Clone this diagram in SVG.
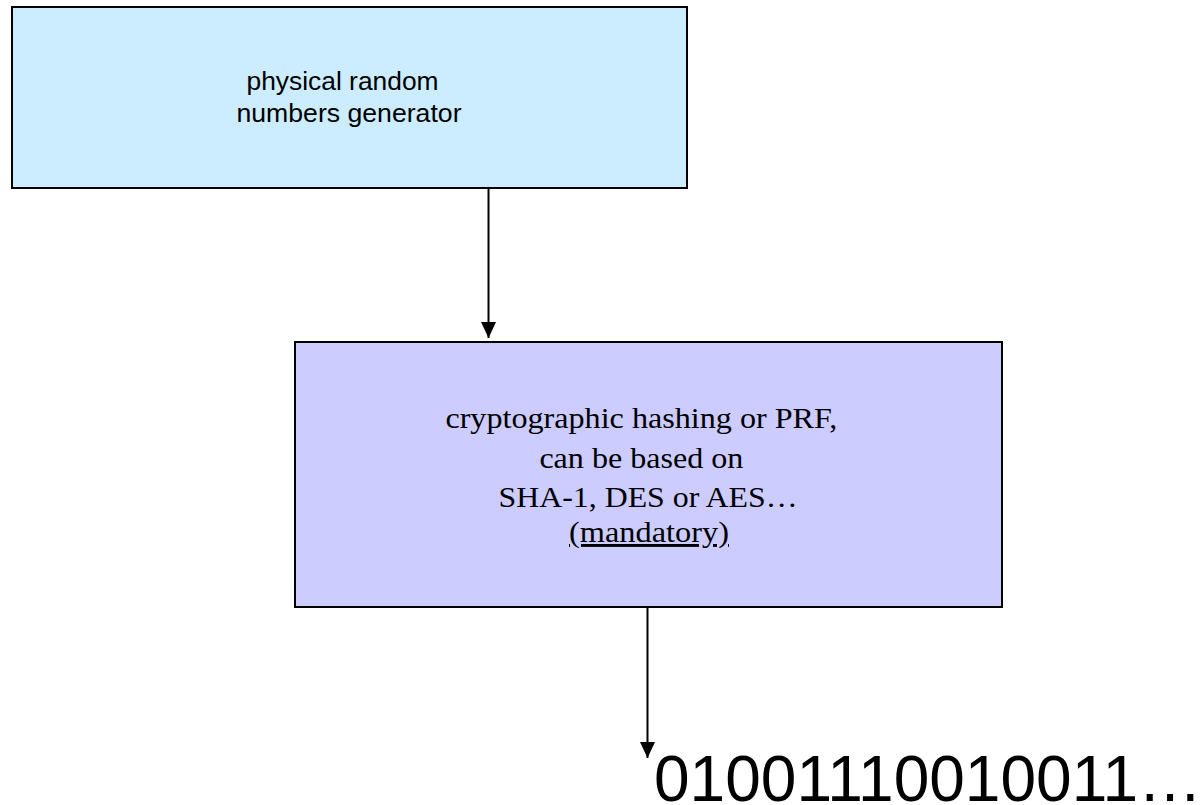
<svg xmlns="http://www.w3.org/2000/svg" width="1202" height="805" viewBox="0 0 1202 805">
  <style>
    .box { stroke: #000; stroke-width: 2; }
    .sans { font-family: "Liberation Sans", Arial, sans-serif; fill: #000; }
    .serif { font-family: "Liberation Serif", "Times New Roman", serif; fill: #000; }
    .link { stroke: #000; stroke-width: 2; fill: none; marker-end: url(#arrow); }
  </style>
  <defs>
    <marker id="arrow" viewBox="0 0 16 15" refX="16" refY="7.5" markerWidth="16" markerHeight="15" markerUnits="userSpaceOnUse" orient="auto">
      <path d="M0,0 L16,7.5 L0,15 Z" fill="#000"/>
    </marker>
  </defs>
  <rect width="1202" height="805" fill="#fff"/>

  <g id="physical-rng">
    <rect class="box" x="12" y="7" width="675" height="181" fill="#CCECFF"/>
    <text class="sans" font-size="25" text-anchor="middle">
      <tspan x="346" y="90" textLength="192" lengthAdjust="spacingAndGlyphs">physical random</tspan>
      <tspan x="349" y="122" textLength="225" lengthAdjust="spacingAndGlyphs">numbers generator</tspan>
    </text>
  </g>

  <g id="crypto-hash">
    <rect class="box" x="295" y="342" width="707" height="265" fill="#CCCCFF"/>
    <text class="serif" font-size="29" text-anchor="middle">
      <tspan x="645" y="428" textLength="392" lengthAdjust="spacingAndGlyphs">cryptographic hashing or PRF,</tspan>
      <tspan x="645" y="468" textLength="204" lengthAdjust="spacingAndGlyphs">can be based on</tspan>
      <tspan x="648" y="507" textLength="299" lengthAdjust="spacingAndGlyphs">SHA-1, DES or AES…</tspan>
    </text>
    <text class="serif" font-size="29" text-anchor="middle" x="649" y="542" textLength="160" lengthAdjust="spacingAndGlyphs" text-decoration="underline">(mandatory)</text>
  </g>

  <g id="output-bits">
    <text class="sans" font-size="64" x="654" y="801">01001110010011…</text>
  </g>

  <g id="connectors">
    <line class="link" x1="488.5" y1="188" x2="488.5" y2="338"/>
    <line class="link" x1="647.5" y1="607" x2="647.5" y2="758"/>
  </g>
</svg>
